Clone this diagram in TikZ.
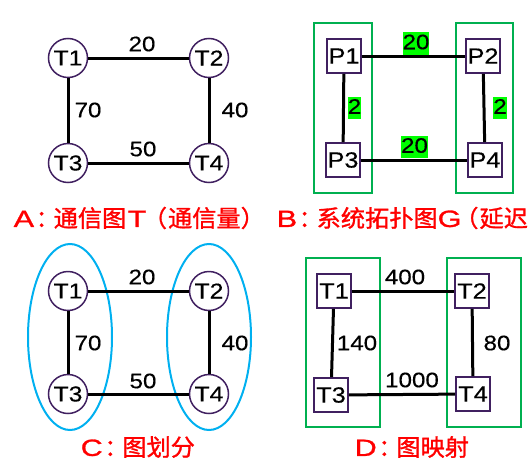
\documentclass[tikz,border=0pt]{standalone}
\usepackage{fontspec}
\setmainfont{Liberation Sans}[FakeStretch=1.15, FakeBold=0.4]
\newfontfamily\cjk{Noto Sans CJK SC}[FakeStretch=1.03, FakeBold=1.2]
\newfontfamily\cjkhalf{Noto Sans CJK SC}[FakeStretch=1.03, FakeBold=1.2, RawFeature=+halt]
\newfontfamily\caplat{Liberation Sans}[FakeStretch=1.3, FakeBold=1.2]
\newcommand{\mycolon}{\hspace{1.5pt}{\cjkhalf ：}\hspace{6pt}}
\newcommand{\mylparen}[1]{\hspace{#1}{\cjkhalf （}\hspace{1pt}}
\usetikzlibrary{shapes.geometric}
\definecolor{purp}{HTML}{402060}
\definecolor{gbox}{HTML}{00B050}
\definecolor{hl}{HTML}{00FF00}
\definecolor{ell}{HTML}{00B0F0}
\definecolor{capred}{HTML}{FF0000}
\tikzset{
  x=1pt, y=-1pt,
  tc/.style={circle, draw=purp, line width=1.5pt, minimum size=39pt, inner sep=0pt, font=\fontsize{21.5}{24}\selectfont},
  tr/.style={rectangle, draw=purp, line width=1.8pt, minimum size=34pt, inner sep=0pt, font=\fontsize{22}{24}\selectfont},
  conn/.style={line width=3pt, black},
  num/.style={inner sep=0pt, font=\fontsize{21}{24}\selectfont},
  hlnum/.style={num, fill=hl, inner xsep=0pt, inner ysep=2pt, text height=15pt, text depth=3.5pt},
  grp/.style={rectangle, draw=gbox, line width=2.6pt, inner sep=0pt},
  partell/.style={ellipse, draw=ell, line width=2pt, inner sep=0pt, minimum width=84pt, minimum height=186pt},
  captxt/.style={anchor=west, inner sep=0pt, text=capred, font=\fontsize{23.5}{26}\selectfont},
}
\begin{document}
\begin{tikzpicture}
\useasboundingbox (0,0) rectangle (530,466);
% ---- Panel A ----
\node[tc] (a1) at (68,58) {T1};
\node[tc] (a2) at (209,58) {T2};
\node[tc] (a3) at (68,163) {T3};
\node[tc] (a4) at (209,163) {T4};
\draw[conn] (a1) -- (a2);
\draw[conn] (a1) -- (a3);
\draw[conn] (a2) -- (a4);
\draw[conn] (a3) -- (a4);
\node[num] (la12) at (142,44) {20};
\node[num] (la13) at (88,110) {70};
\node[num] (la24) at (235,110) {40};
\node[num] (la34) at (143,149) {50};
\node[captxt] (capA) at (13.5,218) {{\caplat A}\mycolon{\cjk 通信图}\hspace{1.5pt}{\caplat T}\mylparen{8.5pt}{\cjk 通信量}{\cjkhalf ）}};
% ---- Panel B ----
\node[grp, minimum width=58pt, minimum height=170pt] (gb1) at (343,108) {};
\node[grp, minimum width=57pt, minimum height=170pt] (gb2) at (484.5,108) {};
\node[tr] (p1) at (344,56) {P1};
\node[tr] (p2) at (483,56) {P2};
\node[tr] (p3) at (343,160) {P3};
\node[tr] (p4) at (485,160) {P4};
\draw[conn] (p1) -- (p2);
\draw[conn] (p1) -- (p3);
\draw[conn] (p2) -- (p4);
\draw[conn] (p3) -- (p4);
\node[hlnum] (lb12) at (416,43.5) {20};
\node[hlnum] (lb13) at (354.5,108) {2};
\node[hlnum] (lb24) at (500,108) {2};
\node[hlnum] (lb34) at (414.5,147) {20};
\node[captxt] (capB) at (276.5,218) {{\caplat B}\mycolon{\cjk 系统拓扑图}{\caplat G}\mylparen{5pt}{\cjk 延迟}};
% ---- Panel C ----
\node[partell] (e1) at (70,337) {};
\node[partell] (e2) at (209,337) {};
\node[tc] (c1) at (68,291) {T1};
\node[tc] (c2) at (209,291) {T2};
\node[tc] (c3) at (68,394) {T3};
\node[tc] (c4) at (209,394) {T4};
\draw[conn] (c1) -- (c2);
\draw[conn] (c1) -- (c3);
\draw[conn] (c2) -- (c4);
\draw[conn] (c3) -- (c4);
\node[num] (lc12) at (142,277) {20};
\node[num] (lc13) at (88,343) {70};
\node[num] (lc24) at (235,343) {40};
\node[num] (lc34) at (143,381) {50};
\node[captxt] (capC) at (80.5,447) {{\caplat C}\mycolon{\cjk 图划分}};
% ---- Panel D ----
\node[grp, minimum width=74pt, minimum height=169pt] (gd1) at (343,342.5) {};
\node[grp, minimum width=74pt, minimum height=169pt] (gd2) at (484,342.5) {};
\node[tr] (d1) at (334,291) {T1};
\node[tr] (d2) at (472,291) {T2};
\node[tr] (d3) at (331,395) {T3};
\node[tr] (d4) at (473,394) {T4};
\draw[conn] (d1) -- (d2);
\draw[conn] (d1) -- (d3);
\draw[conn] (d2) -- (d4);
\draw[conn] (d3) -- (d4);
\node[num] (ld12) at (405,277) {400};
\node[num] (ld13) at (357,343) {140};
\node[num] (ld24) at (497,343) {80};
\node[num] (ld34) at (412,380) {1000};
\node[captxt] (capD) at (354.5,447) {{\caplat D}\mycolon{\cjk 图映射}};
\end{tikzpicture}
\end{document}
